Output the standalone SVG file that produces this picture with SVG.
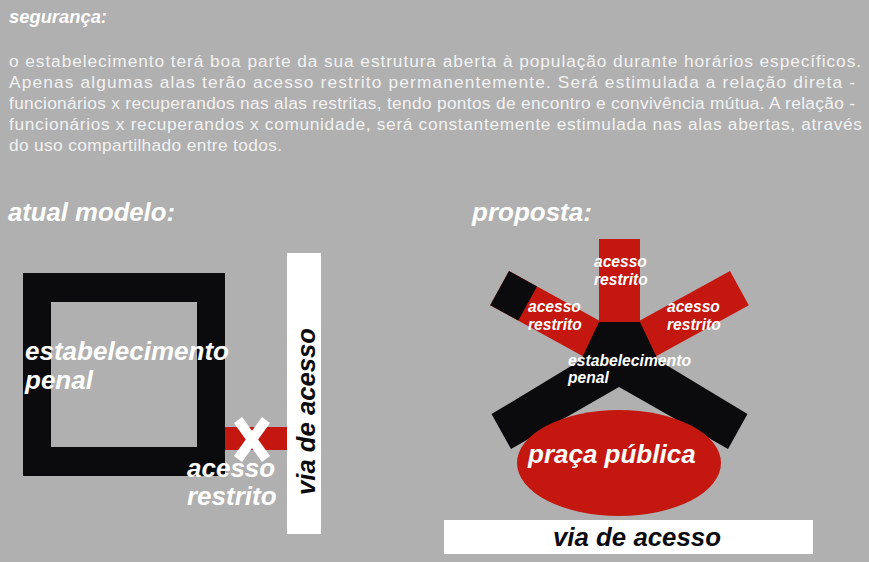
<svg xmlns="http://www.w3.org/2000/svg" width="869" height="562" viewBox="0 0 869 562">
<style>
.p{font-family:"Liberation Sans",Arial,sans-serif;font-size:17.3px;fill:#f2f2f2}
.h{font-family:"Liberation Sans",Arial,sans-serif;font-weight:bold;font-style:italic;fill:#ffffff}
.big{font-size:26px}
.sm{font-size:15.6px}
.dk{fill:#0b0b0d}
.rd{fill:#c3170f}
.bl{fill:#0b0b0d}
.wh{fill:#ffffff}
</style>
<rect width="869" height="562" fill="#b0b0b0"/>
<g id="texto">
<text class="h" x="9" y="23" font-size="18" textLength="98" lengthAdjust="spacingAndGlyphs">segurança:</text>
<text class="p" x="9" y="67" textLength="852" lengthAdjust="spacing">o estabelecimento terá boa parte da sua estrutura aberta à população durante horários específicos.</text>
<text class="p" x="9" y="87.5" textLength="846" lengthAdjust="spacing">Apenas algumas alas terão acesso restrito permanentemente. Será estimulada a relação direta -</text>
<text class="p" x="9" y="108.5" textLength="846" lengthAdjust="spacing">funcionários x recuperandos nas alas restritas, tendo pontos de encontro e convivência mútua. A relação -</text>
<text class="p" x="9" y="129.5" textLength="853" lengthAdjust="spacing">funcionários x recuperandos x comunidade, será constantemente estimulada nas alas abertas, através</text>
<text class="p" x="9" y="150.5" textLength="273" lengthAdjust="spacing">do uso compartilhado entre todos.</text>
</g>
<g id="titulo-atual">
<text class="h big" x="8" y="221" textLength="167" lengthAdjust="spacingAndGlyphs">atual modelo:</text>
</g>
<g id="titulo-proposta">
<text class="h big" x="472" y="221">proposta:</text>
</g>
<g id="connectors">
<rect id="acesso-restrito-barra" class="rd" x="224" y="427" width="64" height="23"/>
<g id="x-mark" stroke="#ffffff" stroke-width="10" stroke-linecap="butt">
<line x1="238" y1="420" x2="266" y2="459"/>
<line x1="266" y1="420" x2="238" y2="459"/>
</g>
</g>
<g id="estabelecimento-atual">
<path class="bl" fill-rule="evenodd" d="M23 273H225V476H23Z M51 302V447H197V302Z"/>
<text class="h big" x="25" y="360" textLength="204" lengthAdjust="spacingAndGlyphs">estabelecimento</text>
<text class="h big" x="25" y="389">penal</text>
</g>
<g id="acesso-restrito-atual">
<text class="h big" x="187" y="477">acesso</text>
<text class="h big" x="187" y="505">restrito</text>
</g>
<g id="via-atual">
<rect class="wh" x="287" y="253" width="34" height="281"/>
<text class="h big dk" transform="translate(315 495) rotate(-90)" x="0" y="0" textLength="167" lengthAdjust="spacingAndGlyphs">via de acesso</text>
</g>
<g id="proposta-estrela">
<polygon id="braco-esq" class="rd" points="509,271 605.4,324 586.6,358.2 490.2,305.2"/>
<polygon id="braco-esq-ponta" class="bl" points="509,271 537,286.4 518.3,320.6 490.2,305.2"/>
<polygon id="braco-dir" class="rd" points="730,271 633.6,324 652.4,358.2 748.8,305.2"/>
<rect id="braco-topo" class="rd" x="599" y="239" width="41" height="84"/>
<polygon id="centro" class="bl" points="599,322 640,322 658,360 747.5,414.1 728,449 619,387 511,449 491.5,414.1 581,360"/>
</g>
<g id="praca-publica">
<ellipse class="rd" cx="619" cy="463" rx="102" ry="53"/>
<text class="h big" x="528" y="463">praça pública</text>
</g>
<g id="labels-proposta">
<text class="h sm" x="594" y="267">acesso</text>
<text class="h sm" x="594" y="285">restrito</text>
<text class="h sm" x="528" y="312">acesso</text>
<text class="h sm" x="528" y="330">restrito</text>
<text class="h sm" x="667" y="312">acesso</text>
<text class="h sm" x="667" y="330">restrito</text>
<text class="h sm" x="568" y="366" textLength="123" lengthAdjust="spacingAndGlyphs">estabelecimento</text>
<text class="h sm" x="568" y="383">penal</text>
</g>
<g id="via-proposta">
<rect class="wh" x="444" y="520" width="369" height="34"/>
<text class="h big dk" x="553" y="546" textLength="168" lengthAdjust="spacingAndGlyphs">via de acesso</text>
</g>
</svg>
